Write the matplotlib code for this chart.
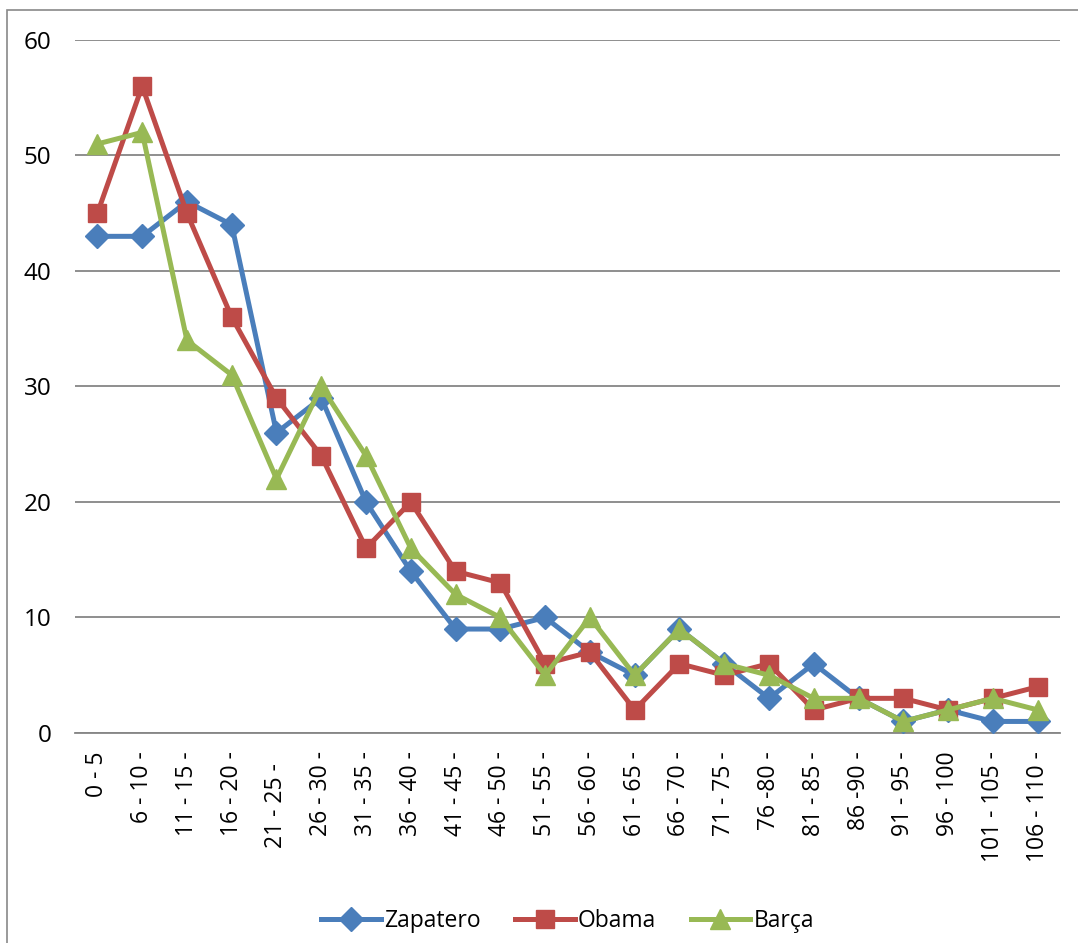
import matplotlib
matplotlib.use("Agg")
import matplotlib.pyplot as plt
import numpy as np
from matplotlib.patches import Rectangle

categories = ["0 - 5", "6 - 10 -", "11 - 15 -", "16 - 20 -", "21 - 25 -  ", "26 - 30 -",
              "31 - 35 -", "36 - 40 -", "41 - 45 -", "46 - 50 -", "51 - 55 -", "56 - 60 -",
              "61 - 65 -", "66 - 70 -", "71 - 75 -", "76 -80 -", "81 - 85 -", "86 -90 -",
              "91 - 95 -", "96 - 100", "101 - 105 -", "106 - 110 -"]
zapatero = [43, 43, 46, 44, 26, 29, 20, 14, 9, 9, 10, 7, 5, 9, 6, 3, 6, 3, 1, 2, 1, 1]
obama = [45, 56, 45, 36, 29, 24, 16, 20, 14, 13, 6, 7, 2, 6, 5, 6, 2, 3, 3, 2, 3, 4]
barca = [51, 52, 34, 31, 22, 30, 24, 16, 12, 10, 5, 10, 5, 9, 6, 5, 3, 3, 1, 2, 3, 2]

plt.rcParams['font.family'] = ['Open Sans', 'DejaVu Sans']

fig = plt.figure(figsize=(10.78, 9.43), dpi=100)
ax = fig.add_axes([0.0696, 0.2227, 0.9137, 0.7349])

x = np.arange(len(categories))
ax.plot(x, zapatero, '-D', color='#4A7EBB', lw=3.6, ms=12.5, label='Zapatero', zorder=3)
ax.plot(x, obama, '-s', color='#BE4B48', lw=3.6, ms=13.5, label='Obama', zorder=4)
ax.plot(x, barca, '-^', color='#98B954', lw=3.6, ms=14, label='Barça', zorder=5)

ax.set_xlim(-0.5, len(categories) - 0.5)
ax.set_ylim(0, 60)
ax.set_yticks(range(0, 61, 10))
ax.yaxis.grid(True, color='#868686', lw=1.3)
ax.set_axisbelow(True)
for s in ['left', 'right', 'top']:
    ax.spines[s].set_visible(False)
ax.spines['bottom'].set_color('#868686')
ax.spines['bottom'].set_linewidth(1.3)

ax.set_xticks(x)
ax.set_xticklabels(categories, rotation=90, va='top', ha='center')
ax.tick_params(axis='x', length=0, pad=13, labelsize=16.5)
ax.tick_params(axis='y', length=0, pad=17, labelsize=17.5)

leg = ax.legend(loc='center', bbox_to_anchor=(0.5, -0.272), ncol=3, frameon=False,
                fontsize=16.5, handlelength=2.6, handletextpad=0.15, columnspacing=1.5)

fig.patches.append(Rectangle((7 / 1078, -0.1), 1.2, (943 - 10) / 943 + 0.1,
                             transform=fig.transFigure, fill=False,
                             edgecolor='#898989', lw=1.2))

fig.savefig('out.png', dpi=100)
